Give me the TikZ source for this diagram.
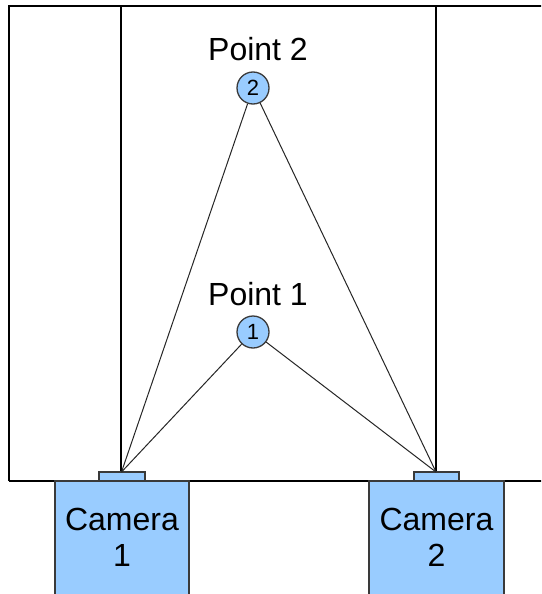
\documentclass[tikz,border=0pt]{standalone}
\usepackage{fontspec}
\setmainfont{Liberation Sans}
\definecolor{camblue}{HTML}{99CCFF}
\definecolor{edgegray}{HTML}{3A3A3A}
\begin{document}
\begin{tikzpicture}[x=1pt,y=-1pt,
  frameline/.style={draw=black, line width=1.3pt},
  ptnode/.style={circle, draw=edgegray, fill=camblue, line width=1.3pt,
    minimum size=32pt, inner sep=0pt, font=\fontsize{22}{24}\selectfont},
  cambox/.style={draw=edgegray, fill=camblue, line width=1.3pt, inner sep=0pt,
    align=center, minimum height=140pt, font=\fontsize{32}{36}\selectfont},
  tabbox/.style={draw=edgegray, fill=camblue, line width=1.1pt, inner sep=0pt,
    minimum height=9pt},
  lbl/.style={font=\fontsize{32}{36}\selectfont, inner sep=0pt, anchor=base},
  ray/.style={draw=black!85, line width=1pt}]
\useasboundingbox (0,0) rectangle (541,594);
\clip (0,0) rectangle (541,594);
\fill[white] (0,0) rectangle (541,594);
% frame
\draw[frameline] (9,481) -- (9,6) -- (545,6);
\draw[frameline] (9,481) -- (545,481);
\draw[frameline] (121,6) -- (121,472);
\draw[frameline] (436,6) -- (436,472);
% cameras
\node[cambox, minimum width=134pt] (cam1) at (122,551) {Camera\\1\rule[-28pt]{0pt}{0pt}};
\node[cambox, minimum width=135pt] (cam2) at (436.5,551) {Camera\\2\rule[-28pt]{0pt}{0pt}};
\node[tabbox, minimum width=46pt] (tab1) at (122,476.5) {};
\node[tabbox, minimum width=45pt] (tab2) at (436.5,476.5) {};
\coordinate (c1) at (121.5,472);
\coordinate (c2) at (436,472);
% points
\node[ptnode] (p2) at (253,88) {2};
\node[ptnode] (p1) at (253,332) {1};
\node[lbl] (l2) at (258,61) {Point 2};
\node[lbl] (l1) at (258,305) {Point 1};
% rays
\draw[ray] (c1) -- (p2);
\draw[ray] (c1) -- (p1);
\draw[ray] (c2) -- (p2);
\draw[ray] (c2) -- (p1);
\end{tikzpicture}
\end{document}
